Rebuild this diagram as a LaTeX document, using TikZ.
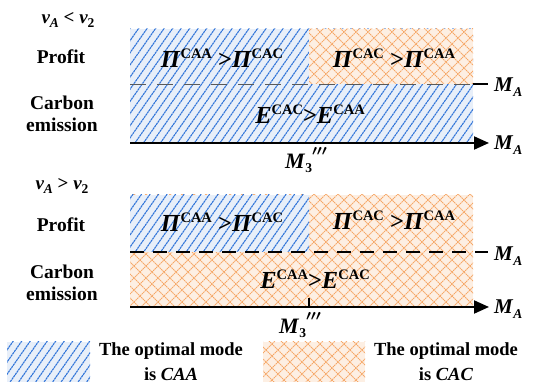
\documentclass[tikz,border=0pt]{standalone}
\usepackage{fontspec}
\setmainfont{Liberation Serif}
\usetikzlibrary{arrows.meta}
\definecolor{bluebg}{HTML}{E8EFF9}
\definecolor{blueln}{HTML}{2F73D8}
\definecolor{orbg}{HTML}{FDEFE3}
\definecolor{orln}{HTML}{F6A868}
\newcommand\sups[1]{\raisebox{0.78ex}{\fontsize{14.5}{14.5}\selectfont #1}}
\newcommand\subs[1]{\raisebox{-0.45ex}{\fontsize{13.5}{13.5}\selectfont #1}}
\newcommand\PIsym[1]{\textit{Π}\sups{#1}}
\newcommand\Esym[1]{\textit{E}\sups{#1}}
\newcommand\MA{\textit{M}\subs{\textit{A}}}
\newcommand\bluehatch[4]{%
  \fill[bluebg] (#1,#2) rectangle (#3,#4);
  \begin{scope}
    \clip (#1,#2) rectangle (#3,#4);
    \foreach \i in {-300,-291.5,...,560}
      \draw[blueln,line width=1.1pt,dash pattern=on 2.2pt off 0.6pt] (\i,400) -- ++(280,-400);
  \end{scope}}
\newcommand\orhatch[4]{%
  \fill[orbg] (#1,#2) rectangle (#3,#4);
  \begin{scope}
    \clip (#1,#2) rectangle (#3,#4);
    \foreach \i in {-420,-408,...,560}{
      \draw[orln,line width=0.8pt,dash pattern=on 1.6pt off 0.6pt] (\i,400) -- ++(400,-400);
      \draw[orln,line width=0.8pt,dash pattern=on 1.6pt off 0.6pt] (\i,0) -- ++(400,400);}
  \end{scope}}
\begin{document}
\begin{tikzpicture}[x=1pt,y=-1pt,
  lab/.style={font=\bfseries\fontsize{19.5}{22}\selectfont,align=center,inner sep=0pt},
  rel/.style={font=\bfseries\fontsize{24.5}{24}\selectfont,inner sep=0pt},
  mlab/.style={font=\bfseries\fontsize{22}{22}\selectfont,inner sep=0pt},
  axlab/.style={font=\bfseries\fontsize{21}{21}\selectfont,inner sep=0pt,anchor=west},
  cond/.style={font=\bfseries\itshape\fontsize{19}{19}\selectfont,inner sep=0pt},
  axis/.style={line width=2pt,-{Triangle[length=15pt,width=13pt]}},
  leg/.style={font=\bfseries\fontsize{18.5}{25}\selectfont,align=center,inner sep=0pt}]
\useasboundingbox (0,0) rectangle (550,387);
% ---------- top panel ----------
\bluehatch{130}{29}{473}{143}
\orhatch{309}{29}{473}{84}
\coordinate (d1s) at (130,84);
\coordinate (d1e) at (473,84);
\coordinate (s1e) at (488,84);
\draw[gray!70!black,line width=0.7pt,dash pattern=on 16pt off 11pt] (d1s) -- (d1e);
\draw[line width=2.5pt] (d1e) -- (s1e);
\node[axlab] (ma1) at (494,87) {\MA};
\coordinate (a1s) at (130,143);
\coordinate (a1e) at (489,143);
\draw[axis] (a1s) -- (a1e);
\node[axlab] (ma2) at (494,145) {\MA};
\node[mlab] (m3a) at (306,160) {\textit{M}\subs{3}\raisebox{1.3ex}{\boldmath$\scriptstyle\prime\prime\prime$}};
\node[cond] (c1) at (68,20) {v\subs{A} \upshape<\itshape{} v\subs{\upshape 2}};
\node[lab] (p1) at (61,57) {Profit};
\node[lab] (ce1) at (62,114) {Carbon\\emission};
\node[rel] (r1) at (222,58) {\PIsym{CAA} >\PIsym{CAC}};
\node[rel] (r2) at (394,58) {\PIsym{CAC} >\PIsym{CAA}};
\node[rel] (r3) at (310,114) {\Esym{CAC}>\Esym{CAA}};
% ---------- bottom panel ----------
\orhatch{130}{195}{473}{307}
\bluehatch{130}{195}{309}{252}
\coordinate (d2s) at (130,252);
\coordinate (d2e) at (488,252);
\draw[line width=2.5pt,dash pattern=on 14pt off 9pt] (d2s) -- (d2e);
\node[axlab] (ma3) at (494,256) {\MA};
\coordinate (a2s) at (130,307);
\coordinate (a2e) at (489,307);
\draw[axis] (a2s) -- (a2e);
\node[axlab] (ma4) at (494,309) {\MA};
\coordinate (t1) at (309,298);
\coordinate (t2) at (309,307);
\draw[line width=2pt] (t1) -- (t2);
\node[mlab] (m3b) at (300,325) {\textit{M}\subs{3}\raisebox{1.3ex}{\boldmath$\scriptstyle\prime\prime\prime$}};
\node[cond] (c2) at (62,186) {v\subs{A} \upshape>\itshape{} v\subs{\upshape 2}};
\node[lab] (p2) at (61,225) {Profit};
\node[lab] (ce2) at (62,283) {Carbon\\emission};
\node[rel] (r4) at (222,222) {\PIsym{CAA} >\PIsym{CAC}};
\node[rel] (r5) at (394,220) {\PIsym{CAC} >\PIsym{CAA}};
\node[rel] (r6) at (315,279) {\Esym{CAA}>\Esym{CAC}};
% ---------- legend ----------
\bluehatch{7}{342}{90}{382}
\orhatch{263}{342}{365}{382}
\node[leg] (l1) at (171,362) {The optimal mode\\is \textit{CAA}};
\node[leg] (l2) at (446,362) {The optimal mode\\is \textit{CAC}};
\end{tikzpicture}
\end{document}
